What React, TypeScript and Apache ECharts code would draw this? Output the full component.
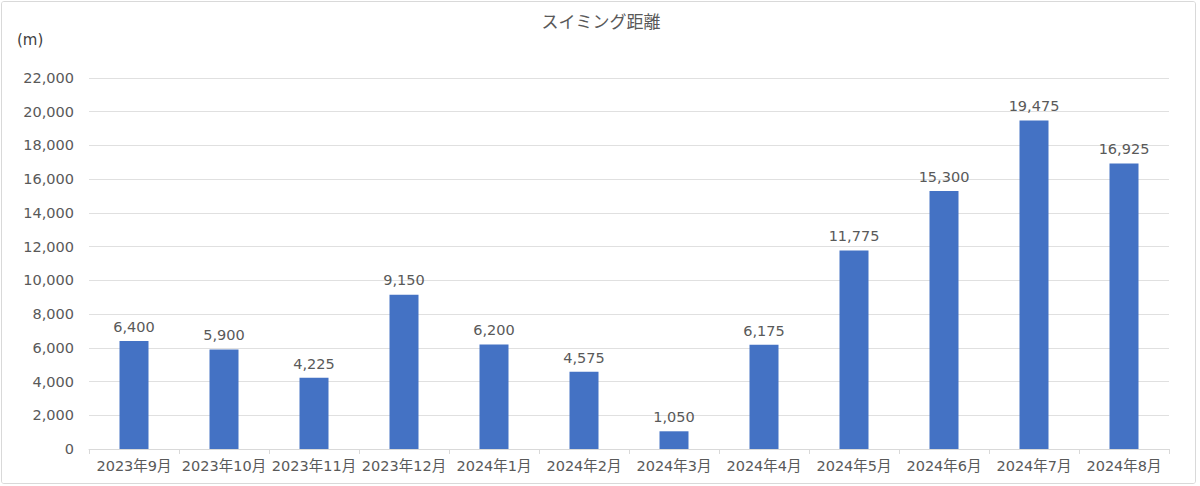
import React, { useEffect, useRef } from "react";
import * as echarts from "echarts";

const categories = [
  "2023年9月", "2023年10月", "2023年11月", "2023年12月", "2024年1月", "2024年2月",
  "2024年3月", "2024年4月", "2024年5月", "2024年6月", "2024年7月", "2024年8月",
];
const distances = [6400, 5900, 4225, 9150, 6200, 4575, 1050, 6175, 11775, 15300, 19475, 16925];
const titleText = "スイミング距離";
const unitText = "(m)";

const FONT = "'DejaVu Sans', 'Noto Sans CJK JP', sans-serif";
const CJK = "'Noto Sans CJK JP', sans-serif";

export default function App() {
  const ref = useRef<HTMLDivElement>(null);
  useEffect(() => {
    if (!ref.current) return;
    const chart = echarts.init(ref.current, undefined, { renderer: "svg" });
    const fmt = (v: number) => v.toLocaleString("en-US");
    chart.setOption({
      animation: false,
      backgroundColor: "#ffffff",
      title: {
        text: titleText,
        left: "center",
        top: 6,
        textStyle: { fontFamily: CJK, fontSize: 17, fontWeight: "normal", color: "#595959" },
      },
      graphic: [
        {
          type: "text",
          left: 16,
          top: 31,
          style: { text: unitText, fontFamily: FONT, fontSize: 15, fill: "#404040" },
        },
      ],
      grid: { left: 88, right: 32, top: 77, bottom: 38, containLabel: false },
      xAxis: {
        type: "category",
        data: categories,
        axisLine: { lineStyle: { color: "#d9d9d9" } },
        axisTick: { show: true, length: 5, lineStyle: { color: "#d9d9d9" } },
        axisLabel: { fontFamily: FONT, fontSize: 14.5, color: "#595959", margin: 10, interval: 0 },
      },
      yAxis: {
        type: "value",
        min: 0,
        max: 22000,
        interval: 2000,
        axisLine: { show: false },
        axisTick: { show: false },
        splitLine: { lineStyle: { color: "#e0e0e0" } },
        axisLabel: {
          fontFamily: FONT,
          fontSize: 14.5,
          color: "#595959",
          margin: 15,
          formatter: (v: number) => fmt(v),
        },
      },
      series: [
        {
          type: "bar",
          data: distances,
          barWidth: 29,
          itemStyle: { color: "#4472C4" },
          label: {
            show: true,
            position: "top",
            distance: 7,
            fontFamily: FONT,
            fontSize: 14.5,
            color: "#595959",
            formatter: (p: any) => fmt(p.value),
          },
        },
      ],
    });
    return () => chart.dispose();
  }, []);
  return (
    <div style={{ position: "fixed", left: 0, top: 0, width: 1200, height: 486, background: "#fff" }}>
      <div
        style={{
          position: "absolute",
          left: 1,
          top: 1,
          width: 1195,
          height: 483,
          border: "1px solid #d9d9d9",
          borderRadius: 3,
          boxSizing: "border-box",
          overflow: "hidden",
        }}
      >
        <div ref={ref} style={{ position: "absolute", left: -1, top: -1, width: 1200, height: 486 }} />
      </div>
    </div>
  );
}
